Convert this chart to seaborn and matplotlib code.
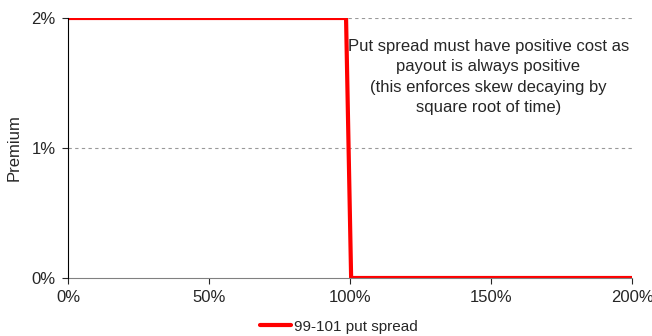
import matplotlib
matplotlib.use("Agg")
import matplotlib.pyplot as plt
import seaborn as sns
import pandas as pd
from matplotlib.ticker import FuncFormatter

sns.set_style("white")
plt.rcParams['font.family'] = ['Liberation Sans', 'DejaVu Sans']

moneyness = [0, 98.6, 100.4, 200]
premium = [2.0, 2.0, 0.0, 0.0]
series_name = "99-101 put spread"
x_ticks = [0, 50, 100, 150, 200]
y_ticks = [0, 1, 2]
note = ("Put spread must have positive cost as\npayout is always positive\n"
        "(this enforces skew decaying by\nsquare root of time)")

df = pd.DataFrame({"x": moneyness, "y": premium, "s": series_name})

fig = plt.figure(figsize=(6.52, 3.36), dpi=100)
ax = fig.add_axes([68/652, 1-278/336, (632-68)/652, (278-18)/336])

for yt in y_ticks[1:]:
    ax.axhline(yt, color="#999999", lw=0.8, ls=(0, (3, 3)), zorder=0)

sns.lineplot(data=df, x="x", y="y", hue="s", palette=["#ff0000"], lw=3,
             ax=ax, legend=True, sort=False)

ax.set_xlim(0, 200)
ax.set_ylim(0, 2)
ax.set_xticks(x_ticks)
ax.set_yticks(y_ticks)
ax.xaxis.set_major_formatter(FuncFormatter(lambda v, p: f"{v:.0f}%"))
ax.yaxis.set_major_formatter(FuncFormatter(lambda v, p: f"{v:.0f}%"))
ax.tick_params(axis="both", labelsize=12, length=4, width=0.8, direction="out",
               bottom=True, left=True, pad=5)
ax.set_xlabel("")
ax.set_ylabel("Premium", fontsize=12, labelpad=7)

for s in ["top", "right"]:
    ax.spines[s].set_visible(False)
ax.spines["left"].set_color("black")
ax.spines["bottom"].set_color("#808080")
ax.spines["left"].set_linewidth(0.8)
ax.spines["bottom"].set_linewidth(0.8)
ax.spines["left"].set_zorder(5)

ax.text(149, 1.84, note, ha="center", va="top", fontsize=12, linespacing=1.45)

ax.legend(loc="upper center", bbox_to_anchor=(0.48, -0.125), frameon=False,
          fontsize=11, handlelength=2.0, handletextpad=0.2, borderpad=0.1)

fig.savefig("out.png", dpi=100)
